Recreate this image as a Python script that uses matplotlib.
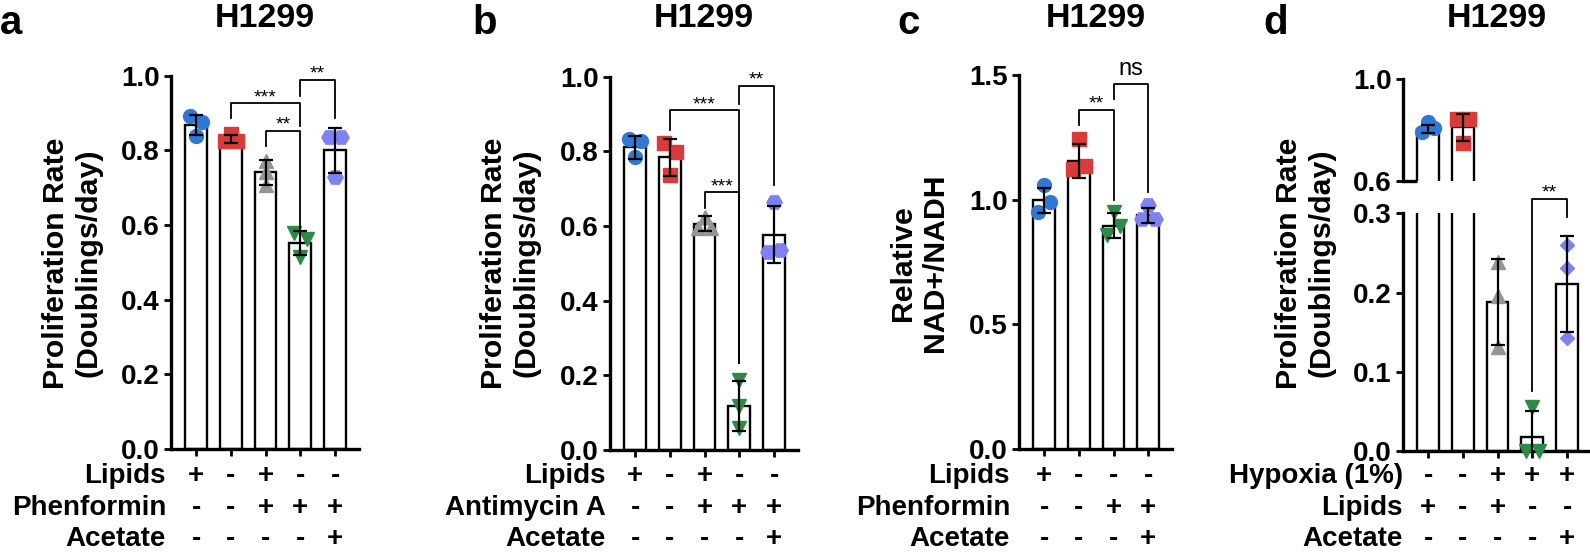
import matplotlib
matplotlib.use("Agg")
import matplotlib.pyplot as plt
import matplotlib.transforms as mtransforms
from matplotlib.ticker import FormatStrFormatter
import numpy as np

plt.rcParams['font.family'] = ['Liberation Sans', 'DejaVu Sans']
plt.rcParams['font.weight'] = 'bold'

W, H = 1590, 553

blue, red, grey, green, lav = '#2f78d6', '#d93a3a', '#959595', '#2e8b47', '#8080f5'

# ---- panel a : proliferation, phenformin
a_means = [0.868, 0.831, 0.741, 0.552, 0.800]
a_sd = [0.026, 0.011, 0.033, 0.032, 0.061]
a_points = [[0.891, 0.877, 0.840],
            [0.844, 0.825, 0.825],
            [0.773, 0.742, 0.708],
            [0.579, 0.562, 0.515],
            [0.836, 0.836, 0.730]]
a_rows = ['Lipids', 'Phenformin', 'Acetate']
a_signs = [['+', '-', '+', '-', '-'],
           ['-', '-', '+', '+', '+'],
           ['-', '-', '-', '-', '+']]
a_brackets = [(1, 3, 0.926, 0.887, 0.866, '***'),
              (2, 3, 0.853, 0.811, 0.584, '**'),
              (3, 4, 0.988, 0.946, 0.887, '**')]

# ---- panel b : proliferation, antimycin A
b_means = [0.811, 0.784, 0.606, 0.117, 0.577]
b_sd = [0.031, 0.049, 0.020, 0.068, 0.076]
b_points = [[0.833, 0.828, 0.785],
            [0.823, 0.798, 0.738],
            [0.624, 0.596, 0.596],
            [0.186, 0.118, 0.057],
            [0.665, 0.530, 0.536]]
b_rows = ['Lipids', 'Antimycin A', 'Acetate']
b_signs = [['+', '-', '+', '-', '-'],
           ['-', '-', '+', '+', '+'],
           ['-', '-', '-', '-', '+']]
b_brackets = [(1, 3, 0.910, 0.858, 0.232, '***'),
              (2, 3, 0.690, 0.648, 0.232, '***'),
              (3, 4, 0.976, 0.927, 0.710, '**')]

# ---- panel c : NAD+/NADH
c_means = [0.997, 1.154, 0.895, 0.938]
c_sd = [0.050, 0.068, 0.050, 0.030]
c_points = [[1.058, 0.952, 0.992],
            [1.242, 1.122, 1.136],
            [0.952, 0.860, 0.895],
            [0.977, 0.924, 0.924]]
c_rows = ['Lipids', 'Phenformin', 'Acetate']
c_signs = [['+', '-', '-', '-'],
           ['-', '-', '+', '+'],
           ['-', '-', '-', '+']]
c_brackets = [(1, 2, 1.360, 1.300, 1.000, '**'),
              (2, 3, 1.466, 1.405, 1.030, 'ns')]

# ---- panel d : proliferation, hypoxia
d_means = [0.805, 0.811, 0.188, 0.018, 0.211]
d_sd = [0.016, 0.053, 0.054, 0.032, 0.061]
d_points = [[0.833, 0.793, 0.808],
            [0.842, 0.842, 0.750],
            [0.238, 0.195, 0.131],
            [0.055, 0.000, 0.000],
            [0.260, 0.231, 0.143]]
d_rows = ['Hypoxia (1%)', 'Lipids', 'Acetate']
d_signs = [['-', '-', '+', '+', '+'],
           ['+', '-', '+', '-', '-'],
           ['-', '-', '-', '-', '+']]
d_brackets = [(3, 4, 0.318, 0.075, 0.296, '**')]

SPACING = 34.75   # px between bar centres
XL, XR = -0.72, 0.68
row_base = [483, 515, 546]
FS = 20

fig = plt.figure(figsize=(W / 100, H / 100), dpi=100)


def add_ax(left, n, top, bottom):
    right = left + (n - 1 + XR - XL) * SPACING
    ax = fig.add_axes([left / W, 1 - bottom / H, (right - left) / W, (bottom - top) / H])
    ax.set_xlim(XL, n - 1 + XR)
    return ax


def style(ax, yticks):
    for s in ['top', 'right']:
        ax.spines[s].set_visible(False)
    for s in ['left', 'bottom']:
        ax.spines[s].set_linewidth(2.4)
    ax.tick_params(direction='out', length=5, width=2, labelsize=FS, pad=3)
    ax.set_yticks(yticks)
    ax.yaxis.set_major_formatter(FormatStrFormatter('%.1f'))


def spread(vals, tol):
    off = np.zeros(len(vals))
    best = None
    for i in range(len(vals)):
        for j in range(i + 1, len(vals)):
            d = abs(vals[i] - vals[j])
            if d < tol and (best is None or d < best[0]):
                best = (d, i, j)
    if best:
        off[best[1]] = -0.18
        off[best[2]] = 0.18
    return off


def draw(ax, means, sd, points, cols, markers, sizes, px_per_unit):
    x = np.arange(len(means))
    lo, hi = ax.get_ylim()
    ax.bar(x, means, width=0.63, color='white', edgecolor='black', linewidth=1.7, zorder=1)
    for i, pts in enumerate(points):
        off = spread(pts, 10.5 / px_per_unit)
        for o, p in zip(off, pts):
            if lo - 0.05 * (hi - lo) <= p <= hi:
                ax.plot(i + o, p, ls='none', marker=markers[i], ms=sizes[i],
                        color=cols[i], mec=cols[i], zorder=3, clip_on=False)
    ax.errorbar(x, means, yerr=sd, fmt='none', ecolor='black', elinewidth=1.6,
                capsize=4.8, capthick=1.6, zorder=4)
    ax.set_xticks(x)
    ax.set_xticklabels([])


def brackets(ax, items):
    for i, j, y, yl, yr, txt in items:
        ax.plot([i, i, j, j], [yl, y, y, yr], color='black', lw=1.3, clip_on=False, zorder=5)
        dy = 6 if txt == 'ns' else 1
        size = 17 if txt == 'ns' else 14
        ax.annotate(txt, ((i + j) / 2, y), xytext=(0, dy), textcoords='offset points',
                    ha='center', va='baseline', fontsize=size, fontweight='normal',
                    annotation_clip=False)


def table(ax, right, rows, signs):
    tr = mtransforms.blended_transform_factory(ax.transData, fig.transFigure)
    for r, (lab, row) in enumerate(zip(rows, signs)):
        yf = 1 - row_base[r] / H
        fig.text(right / W, yf, lab, ha='right', va='baseline', fontsize=FS)
        for i, s in enumerate(row):
            ax.text(i, yf, s, transform=tr, ha='center', va='baseline', fontsize=FS)


def headers(ax, letter, letter_x, ylab, ylab_x):
    bb = ax.get_position()
    fig.text((bb.x0 + bb.x1) / 2, 1 - 27 / H, 'H1299', ha='center', va='baseline', fontsize=24.5)
    fig.text(letter_x / W, 1 - 34 / H, letter, ha='left', va='baseline', fontsize=29)
    fig.text(ylab_x / W, 1 - 263 / H, ylab, rotation=90, ha='center', va='center',
             fontsize=21.8, linespacing=1.22, multialignment='center')


mk5 = ['o', 's', '^', 'v', 'H']
sz5 = [10, 9.5, 10.5, 10.5, 11]
col5 = [blue, red, grey, green, lav]
prolif = 'Proliferation Rate\n(Doublings/day)'

# a
ax = add_ax(171, 5, 75.8, 449)
ax.set_ylim(0, 1.0)
style(ax, [0, 0.2, 0.4, 0.6, 0.8, 1.0])
draw(ax, a_means, a_sd, a_points, col5, mk5, sz5, 373.2)
brackets(ax, a_brackets)
table(ax, 166, a_rows, a_signs)
headers(ax, 'a', 0, prolif, 72)

# b
ax = add_ax(610, 5, 76.9, 449.7)
ax.set_ylim(0, 1.0)
style(ax, [0, 0.2, 0.4, 0.6, 0.8, 1.0])
draw(ax, b_means, b_sd, b_points, col5, mk5, sz5, 372.8)
brackets(ax, b_brackets)
table(ax, 606, b_rows, b_signs)
headers(ax, 'b', 472, prolif, 510)

# c
mk4 = ['o', 's', 'v', 'H']
sz4 = [10, 9.5, 10.5, 11]
col4 = [blue, red, green, lav]
ax = add_ax(1019, 4, 75.1, 448.7)
ax.set_ylim(0, 1.5)
style(ax, [0, 0.5, 1.0, 1.5])
draw(ax, c_means, c_sd, c_points, col4, mk4, sz4, 249.1)
brackets(ax, c_brackets)
table(ax, 1010, c_rows, c_signs)
headers(ax, 'c', 897, 'Relative\nNAD+/NADH', 919)

# d (broken axis)
mkd = ['o', 's', '^', 'v', 'D']
szd = [10, 9.5, 10.5, 10.5, 7.5]
axl = add_ax(1403, 5, 213.4, 450.8)
axl.set_ylim(0, 0.3)
style(axl, [0, 0.1, 0.2, 0.3])
draw(axl, d_means, d_sd, d_points, col5, mkd, szd, 791.3)
brackets(axl, d_brackets)
table(axl, 1403, d_rows, d_signs)

axu = add_ax(1403, 5, 79.4, 180.6)
axu.set_ylim(0.6, 1.0)
style(axu, [0.6, 1.0])
draw(axu, d_means, d_sd, d_points, col5, mkd, szd, 253.0)
axu.spines['bottom'].set_visible(False)
axu.tick_params(axis='x', length=0)
axu.hlines(0.6, XL, -0.315, color='black', lw=2.4, clip_on=False)
headers(axl, 'd', 1263, prolif, 1305)

fig.savefig('out.png', dpi=100)
